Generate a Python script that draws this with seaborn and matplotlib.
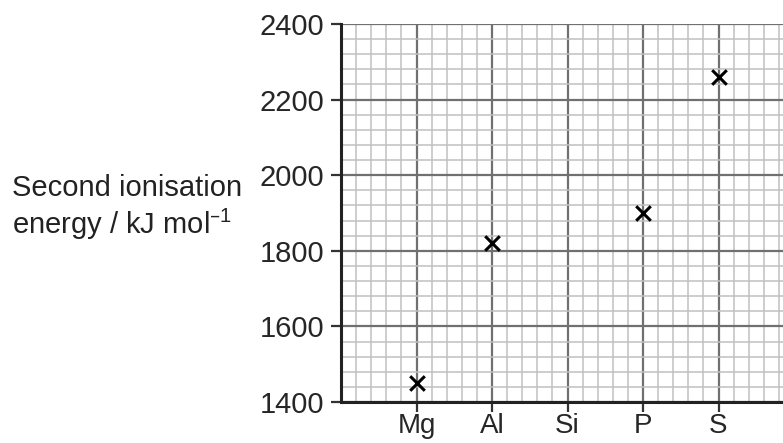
import numpy as np
import pandas as pd
import matplotlib
matplotlib.use("Agg")
import matplotlib.pyplot as plt
import seaborn as sns
from matplotlib.ticker import MultipleLocator

elements = ["Mg", "Al", "Si", "P", "S"]
energy = [1450, 1820, np.nan, 1900, 2260]
y_ticks = [1400, 1600, 1800, 2000, 2200, 2400]

sns.set_style("white")
plt.rcParams["font.family"] = ["Liberation Sans", "DejaVu Sans"]
plt.rcParams["mathtext.default"] = "regular"

df = pd.DataFrame({"pos": np.arange(1, len(elements) + 1), "element": elements, "energy": energy})
df = df.dropna()

fig = plt.figure(figsize=(7.83, 4.43), dpi=100)
ax = fig.add_axes([341 / 783, 41 / 443, 453 / 783, 378 / 443])

sns.scatterplot(data=df, x="pos", y="energy", marker="x", color="black",
                s=110, linewidth=2.2, ax=ax, zorder=5)

ax.set_xlim(0, 6)
ax.set_ylim(1400, 2400)
ax.set_xticks(range(1, len(elements) + 1))
ax.set_xticklabels(elements)
ax.set_yticks(y_ticks)
ax.xaxis.set_minor_locator(MultipleLocator(0.2))
ax.yaxis.set_minor_locator(MultipleLocator(40))

ax.grid(which="minor", color="#c0c0c0", linewidth=1.1)
ax.grid(which="major", color="#707070", linewidth=1.6)
ax.set_axisbelow(True)

for side in ["top", "right"]:
    ax.spines[side].set_visible(False)
for side in ["left", "bottom"]:
    ax.spines[side].set_color("#222222")
    ax.spines[side].set_linewidth(2.2)

ax.tick_params(which="major", direction="out", length=7, width=1.6,
               color="#333333", labelsize=21, left=True, bottom=True)
ax.tick_params(axis="y", pad=5)
ax.tick_params(axis="x", pad=1, labelsize=20)
ax.tick_params(which="minor", length=0)
ax.set_xlabel("")
ax.set_ylabel("")

fig.text(12 / 783, 1 - 208 / 443, "Second ionisation\nenergy / kJ mol$^{\u2013 1}$",
         fontsize=21, ha="left", va="center", linespacing=1.15, color="#222222")

fig.savefig("out.png", dpi=100)
